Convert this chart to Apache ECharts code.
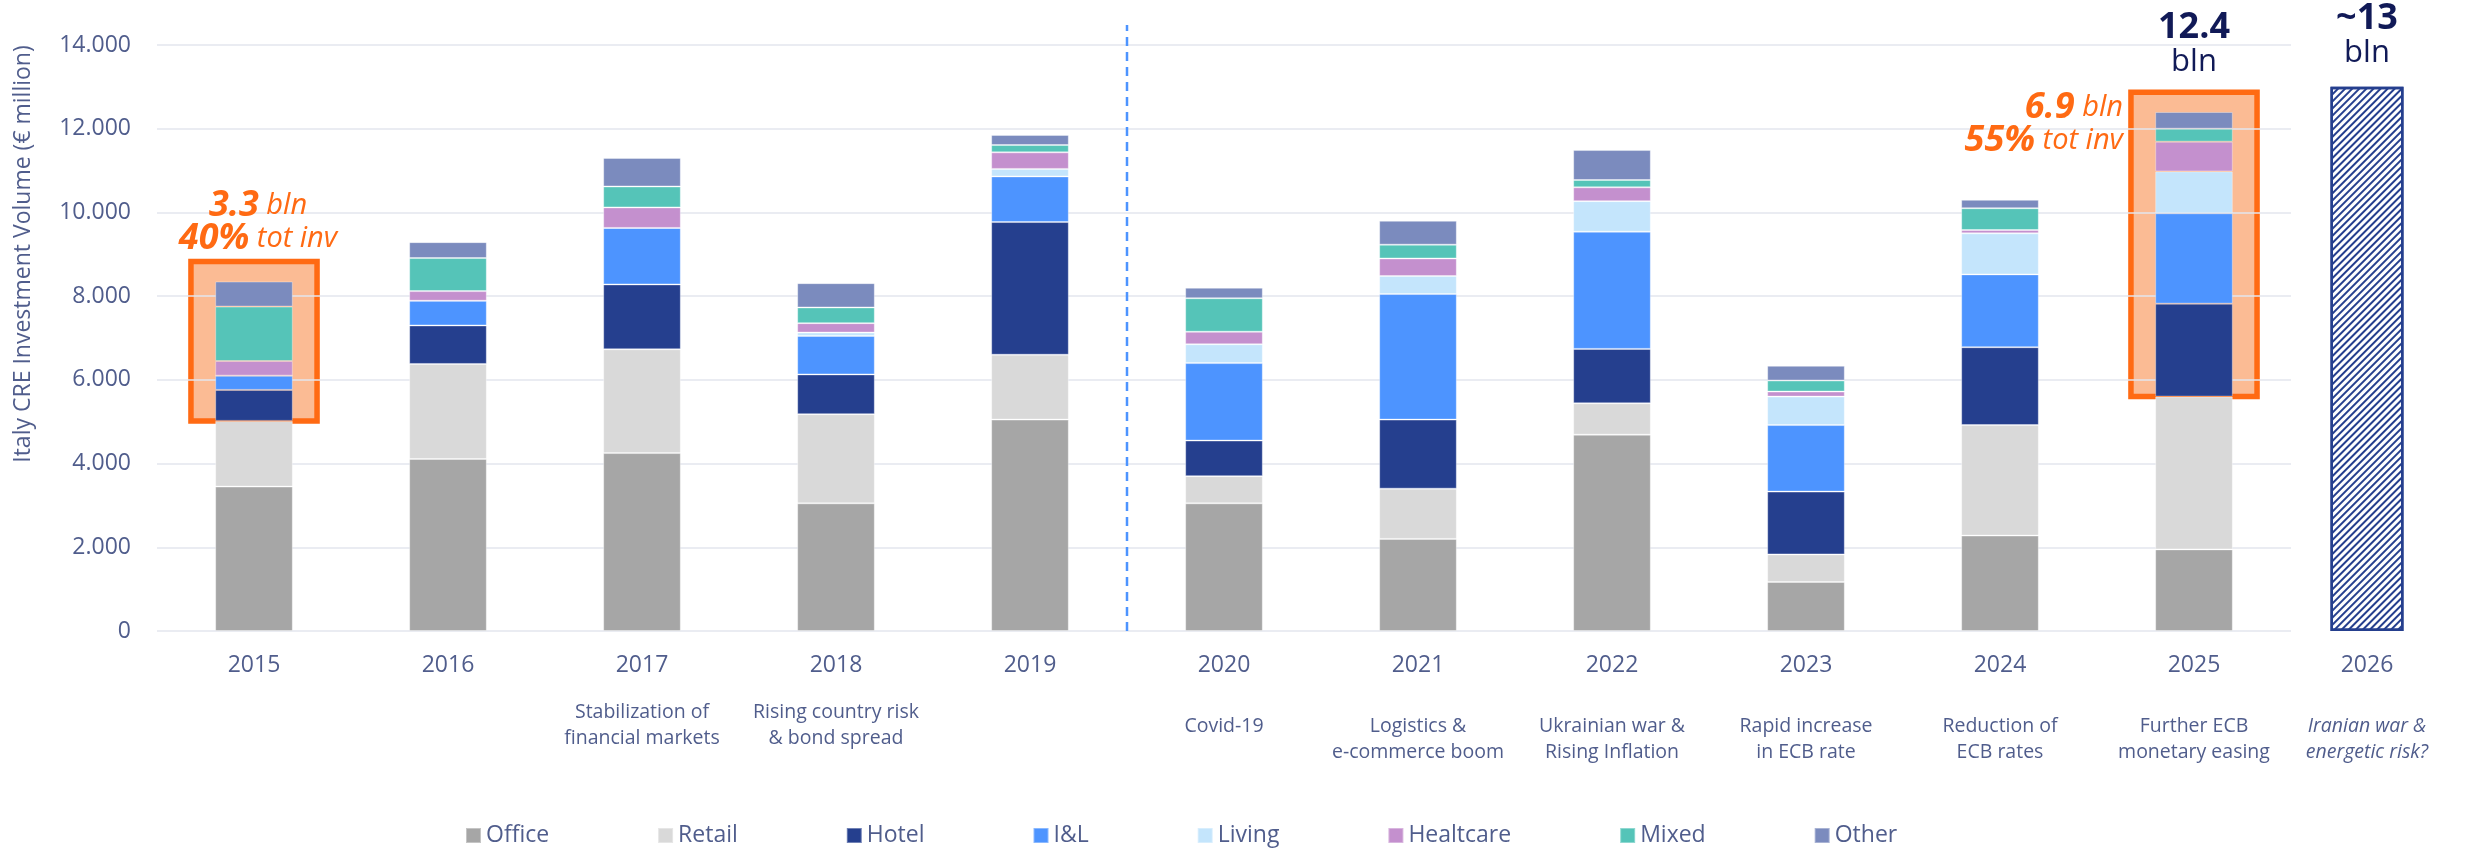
<!DOCTYPE html>
<html>
<head>
<meta charset="utf-8">
<title>Italy CRE Investment Volume</title>
<script src="https://cdn.jsdelivr.net/npm/echarts@6/dist/echarts.min.js"></script>
<style>
  html, body { margin: 0; padding: 0; background: #fff; }
  #chart { width: 2473px; height: 850px; }
</style>
</head>
<body>
<div id="chart"></div>
<script>
// categories
const years = ['2015', '2016', '2017', '2018', '2019', '2020', '2021', '2022', '2023', '2024', '2025']
const drivers = ['', '', 'Stabilization of\nfinancial markets', 'Rising country risk\n& bond spread', '',
  'Covid-19', 'Logistics &\ne-commerce boom', 'Ukrainian war &\nRising Inflation',
  'Rapid increase\nin ECB rate', 'Reduction of\nECB rates', 'Further ECB\nmonetary easing']

// investment volume by sector (€ million)
const office = [3450, 4110, 4250, 3050, 5050, 3050, 2200, 4690, 1170, 2280, 1950]
const retail = [1570, 2270, 2480, 2130, 1550, 650, 1200, 750, 660, 2640, 3650]
const hotel = [740, 920, 1550, 950, 3170, 850, 1650, 1300, 1500, 1860, 2220]
const logistics = [340, 590, 1350, 920, 1090, 1850, 3000, 2800, 1590, 1740, 2160]
const living = [0, 0, 0, 80, 180, 450, 430, 730, 680, 980, 1000]
const healthcare = [350, 230, 490, 225, 395, 300, 420, 330, 120, 80, 710]
const mixed = [1300, 790, 500, 375, 175, 800, 330, 175, 265, 520, 310]
const other = [600, 380, 680, 580, 240, 250, 570, 715, 350, 200, 400]

// 2026 outlook
const forecastYear = '2026'
const forecastValue = 13000
const forecastDriver = 'Iranian war &\nenergetic risk?'

// highlighted alternative-sector share
const highlightYears = ['2015', '2025']
const highlightTop = [8830, 12870]
const highlightBln = ['3.3', '6.9']
const highlightShare = ['40%', '55%']

// y axis ticks
const yMax = 14000
const yInterval = 2000
const separatorAfter = '2019'

const textColor = '#505d8c'
const orange = '#ff6a13'
const navy = '#111a57'

const sectors = [
  { name: 'Office', data: office, color: '#a6a6a6' },
  { name: 'Retail', data: retail, color: '#d9d9d9' },
  { name: 'Hotel', data: hotel, color: '#253f8e' },
  { name: 'I&L', data: logistics, color: '#4d94ff' },
  { name: 'Living', data: living, color: '#c4e5fc' },
  { name: 'Healtcare', data: healthcare, color: '#c490ce' },
  { name: 'Mixed', data: mixed, color: '#55c4b8' },
  { name: 'Other', data: other, color: '#7b8bbe' }
]

const last = years.length - 1
const lastTotal = sectors.reduce((s, x) => s + x.data[last], 0)
const sepIndex = years.indexOf(separatorAfter)

function fmtThousands(v) {
  if (v === 0) return '0'
  return Math.floor(v / 1000) + '.' + String(v % 1000).padStart(3, '0')
}

const labelRich = {
  y: { fontSize: 23, lineHeight: 26, color: textColor },
  gA: { fontSize: 10, lineHeight: 21 },
  gB: { fontSize: 10, lineHeight: 35 },
  d: { fontSize: 19.5, lineHeight: 26, color: textColor },
  di: { fontSize: 19.5, lineHeight: 26, color: textColor, fontStyle: 'italic' }
}

function yearLabel(value, index) {
  const desc = drivers[index]
  if (!desc) return '{y|' + value + '}'
  const gap = index <= sepIndex ? 'gA' : 'gB'
  return '{y|' + value + '}\n{' + gap + '| }\n' + desc.split('\n').map(l => '{d|' + l + '}').join('\n')
}

const barSeries = sectors.map((s, si) => ({
  name: s.name,
  type: 'bar',
  stack: 'total',
  barWidth: '40%',
  itemStyle: { color: s.color, borderColor: 'rgba(255,255,255,0.35)', borderWidth: 1 },
  data: s.data.map((v, i) => {
    if (si === sectors.length - 1 && i === last) {
      return {
        value: v,
        label: {
          show: true,
          position: 'top',
          distance: 33,
          formatter: '{t|' + (lastTotal / 1000).toFixed(1) + '}\n{u|bln}',
          rich: {
            t: { fontSize: 36, fontWeight: 'bold', color: navy, lineHeight: 34 },
            u: { fontSize: 31, color: navy, lineHeight: 34 }
          }
        }
      }
    }
    return v
  })
}))

const boxData = highlightYears.map((y, i) => {
  const k = years.indexOf(y)
  return [k, office[k] + retail[k], highlightTop[i]]
})

function boxGeom(api) {
  const lo = api.coord([api.value(0), api.value(1)])
  const hi = api.coord([api.value(0), api.value(2)])
  const w = api.size([1, 0])[0] * 0.65
  return { lo, hi, w }
}

function renderBox(params, api) {
  const g = boxGeom(api)
  return {
    type: 'rect',
    shape: { x: g.lo[0] - g.w / 2, y: g.hi[1], width: g.w, height: g.lo[1] - g.hi[1] },
    style: { fill: '#fbbb94', stroke: orange, lineWidth: 5.5 }
  }
}

function renderNote(params, api) {
  const g = boxGeom(api)
  const idx = params.dataIndex
  const toLeft = idx === highlightYears.length - 1
  return {
    type: 'text',
    x: toLeft ? g.lo[0] - g.w / 2 - 8 : g.lo[0] + 4,
    y: toLeft ? g.hi[1] - 1 : g.hi[1] - 6,
    style: {
      text: '{n|' + highlightBln[idx] + '} {u|bln}\n{n|' + highlightShare[idx] + '} {u|tot inv}',
      align: toLeft ? 'right' : 'center',
      verticalAlign: toLeft ? 'top' : 'bottom',
      fill: orange,
      fontSize: 29,
      fontStyle: 'italic',
      fontFamily: 'Open Sans',
      rich: {
        n: { fontSize: 36, fontWeight: 'bold', fontStyle: 'italic', fill: orange, lineHeight: 33, fontFamily: 'Open Sans' },
        u: { fontSize: 29, fontStyle: 'italic', fill: orange, lineHeight: 33, fontFamily: 'Open Sans' }
      }
    }
  }
}

function renderSeparator(params, api) {
  const a = api.coord([api.value(0), 0])
  const b = api.coord([api.value(0) + 1, yMax])
  const x = (a[0] + b[0]) / 2
  return {
    type: 'line',
    shape: { x1: x, y1: a[1], x2: x, y2: b[1] - 20 },
    style: { stroke: '#4d94ff', lineWidth: 2.5, lineDash: [9, 6] }
  }
}

const chart = echarts.init(document.getElementById('chart'))
chart.setOption({
  animation: false,
  textStyle: { fontFamily: 'Open Sans' },
  grid: [
    { left: 157, right: 182, top: 45, bottom: 219 },
    { left: 2317, right: 56, top: 45, bottom: 219 }
  ],
  legend: {
    data: sectors.map(s => s.name),
    left: 465,
    top: 824,
    padding: 0,
    icon: 'rect',
    itemWidth: 15,
    itemHeight: 15,
    itemGap: 108,
    textStyle: { fontSize: 23, color: textColor }
  },
  graphic: [{
    type: 'text',
    x: 23,
    y: 254,
    rotation: Math.PI / 2,
    style: {
      text: 'Italy CRE Investment Volume (€ million)',
      fontSize: 23,
      fontFamily: 'Open Sans',
      fill: textColor,
      align: 'center',
      verticalAlign: 'middle'
    }
  }],
  xAxis: [
    {
      type: 'category',
      gridIndex: 0,
      data: years,
      axisLine: { show: false },
      axisTick: { show: false },
      axisLabel: { margin: 21, interval: 0, formatter: yearLabel, rich: labelRich }
    },
    {
      type: 'category',
      gridIndex: 1,
      data: [forecastYear],
      axisLine: { show: false },
      axisTick: { show: false },
      axisLabel: {
        margin: 21,
        interval: 0,
        formatter: v => '{y|' + v + '}\n{gB| }\n' + forecastDriver.split('\n').map(l => '{di|' + l + '}').join('\n'),
        rich: labelRich
      }
    }
  ],
  yAxis: [
    {
      type: 'value',
      gridIndex: 0,
      min: 0,
      max: yMax,
      interval: yInterval,
      axisLine: { show: false },
      axisTick: { show: false },
      axisLabel: { fontSize: 23, color: textColor, margin: 26, formatter: fmtThousands },
      splitLine: { lineStyle: { color: '#e3e6ee', width: 1.5 } }
    },
    {
      type: 'value',
      gridIndex: 1,
      min: 0,
      max: yMax,
      interval: yInterval,
      show: false,
      splitLine: { show: false }
    }
  ],
  series: [
    {
      name: 'highlightBox',
      type: 'custom',
      xAxisIndex: 0,
      yAxisIndex: 0,
      z: -1,
      renderItem: renderBox,
      data: boxData
    },
    ...barSeries,
    {
      name: 'highlightNote',
      type: 'custom',
      xAxisIndex: 0,
      yAxisIndex: 0,
      renderItem: renderNote,
      data: boxData
    },
    {
      name: 'separator',
      type: 'custom',
      xAxisIndex: 0,
      yAxisIndex: 0,
      renderItem: renderSeparator,
      data: [[sepIndex]]
    },
    {
      name: forecastYear,
      type: 'bar',
      xAxisIndex: 1,
      yAxisIndex: 1,
      barWidth: 73,
      itemStyle: {
        color: '#ffffff',
        borderColor: '#253f8e',
        borderWidth: 2.5,
        decal: {
          symbol: 'rect',
          symbolSize: 1,
          dashArrayX: [1, 0],
          dashArrayY: [1.2, 2.8],
          rotation: -Math.PI / 4,
          color: '#253f8e'
        }
      },
      label: {
        show: true,
        position: 'top',
        distance: 17,
        formatter: '{t|~' + Math.round(forecastValue / 1000) + '}\n{u|bln}',
        rich: {
          t: { fontSize: 36, fontWeight: 'bold', color: navy, lineHeight: 34 },
          u: { fontSize: 31, color: navy, lineHeight: 34 }
        }
      },
      data: [forecastValue]
    }
  ]
})
</script>
</body>
</html>
